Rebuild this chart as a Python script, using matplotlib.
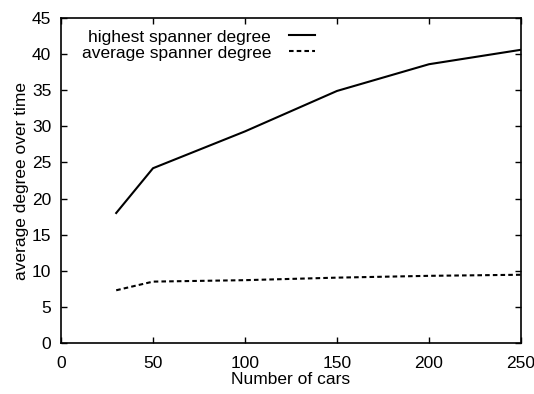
import matplotlib
matplotlib.use("Agg")
import matplotlib.pyplot as plt

cars = [30, 50, 100, 150, 200, 250]
highest_degree = [18.0, 24.2, 29.3, 34.9, 38.6, 40.6]
average_degree = [7.3, 8.5, 8.7, 9.05, 9.3, 9.45]

plt.rcParams["font.family"] = ["Liberation Sans", "DejaVu Sans"]
plt.rcParams["font.size"] = 12.5

fig = plt.figure(figsize=(5.34, 3.94), dpi=100)
ax = fig.add_axes([61 / 534, 1 - 343 / 394, 460 / 534, 325 / 394])

ax.plot(cars, highest_degree, color="black", linewidth=1.5, label="highest spanner degree")
ax.plot(cars, average_degree, color="black", linewidth=1.5, linestyle=(0, (2.2, 1.5)),
        label="average spanner degree")

ax.set_xlim(0, 250)
ax.set_ylim(0, 45)
ax.set_xticks(range(0, 251, 50))
ax.set_yticks(range(0, 46, 5))
ax.tick_params(direction="in", top=True, right=True, length=4, width=1, labelsize=12.5)
ax.tick_params(axis="x", pad=9)
ax.tick_params(axis="y", pad=7)
for spine in ax.spines.values():
    spine.set_linewidth(1.2)

ax.set_xlabel("Number of cars", labelpad=1)
ax.set_ylabel("average degree over time", labelpad=2)

ax.legend(loc="upper left", bbox_to_anchor=(0.045, 0.965), frameon=False, markerfirst=False,
          handlelength=1.55, handletextpad=1.0, labelspacing=0.05, borderaxespad=0,
          borderpad=0)

fig.savefig("out.png", dpi=100, facecolor="white")
